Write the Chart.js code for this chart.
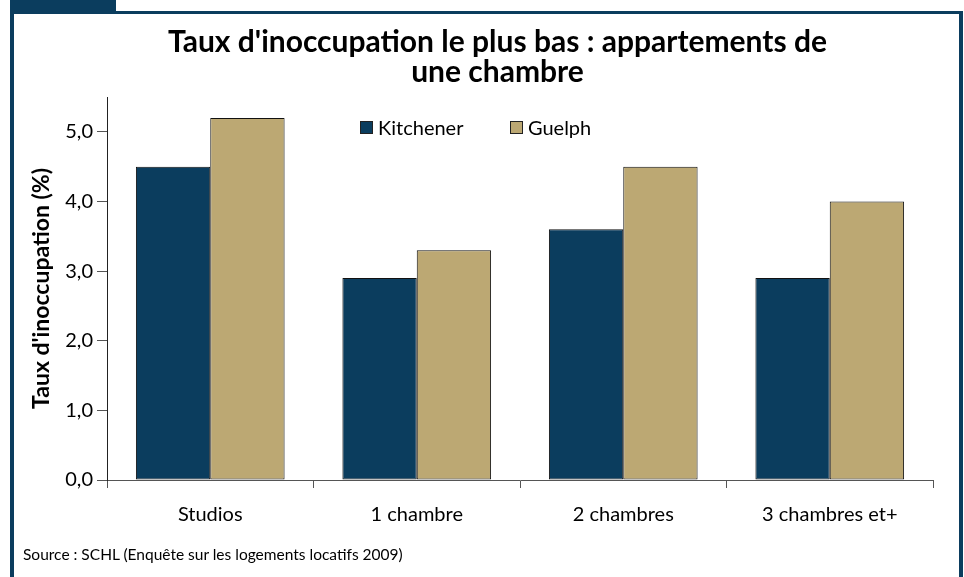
<!DOCTYPE html>
<html>
<head>
<meta charset="utf-8">
<script src="https://cdn.jsdelivr.net/npm/chart.js@4/dist/chart.umd.min.js"></script>
<style>
  html, body { margin: 0; padding: 0; background: #fff; }
  body { width: 964px; height: 577px; position: relative; overflow: hidden; font-family: Lato, sans-serif; }
  #tab { position: absolute; left: 10px; top: 0; width: 106px; height: 12px; background: #0b3d5e; }
  #frame { position: absolute; left: 10px; top: 11px; width: 945px; height: 580px;
           border-left: 4px solid #0b3d5e; border-top: 3px solid #0b3d5e; border-right: 4px solid #0b3d5e; }
  #source { position: absolute; left: 23px; top: 545px; font-size: 15.5px; color: #000; }
  canvas { position: absolute; left: 0; top: 0; }
</style>
</head>
<body>
<div id="tab"></div>
<div id="frame"></div>
<canvas id="c" width="964" height="577"></canvas>
<div id="source">Source : SCHL (Enquête sur les logements locatifs 2009)</div>
<script>
const categories = ["Studios", "1 chambre", "2 chambres", "3 chambres et+"];
const kitchener = [4.5, 2.9, 3.6, 2.9];
const guelph = [5.2, 3.3, 4.5, 4.0];
const titleLines = ["Taux d'inoccupation le plus bas : appartements de", "une chambre"];
const yTitle = "Taux d'inoccupation (%)";

const FONT = "Lato, 'Open Sans', sans-serif";

// legend drawn inside the plot, left of centre like the original
const innerLegend = {
  id: "innerLegend",
  afterLayout(chart) {
    // title sits a bit right of the layout centre
    chart.titleBlock.left += 17;
    chart.titleBlock.right += 17;
  },
  afterDraw(chart) {
    const ctx = chart.ctx;
    const a = chart.chartArea;
    let x = a.left + 253;
    const y = a.top + 31;
    ctx.save();
    ctx.font = "20px " + FONT;
    ctx.textBaseline = "middle";
    chart.data.datasets.forEach(ds => {
      ctx.fillStyle = ds.backgroundColor;
      ctx.fillRect(x, y - 7, 13, 13);
      ctx.strokeStyle = "#222";
      ctx.lineWidth = 1;
      ctx.strokeRect(x + 0.5, y - 6.5, 12, 12);
      ctx.fillStyle = "#000";
      ctx.fillText(ds.label, x + 18, y + 1);
      x += 150;
    });
    ctx.restore();
  }
};

new Chart(document.getElementById("c"), {
  type: "bar",
  data: {
    labels: categories,
    datasets: [
      { label: "Kitchener", data: kitchener, backgroundColor: "#0b3d5e", borderColor: "#111", borderWidth: 1, borderSkipped: false },
      { label: "Guelph", data: guelph, backgroundColor: "#bca873", borderColor: "#111", borderWidth: 1, borderSkipped: false }
    ]
  },
  options: {
    responsive: false,
    animation: false,
    layout: { padding: { left: 28, right: 31, top: 10, bottom: 47 } },
    datasets: { bar: { categoryPercentage: 0.72, barPercentage: 1.0 } },
    scales: {
      x: {
        grid: { drawOnChartArea: false, tickLength: 8, color: "#555" },
        border: { color: "#555" },
        ticks: { color: "#000", font: { size: 20, family: FONT }, padding: 15 },
        afterFit(s) { s.height = 50; }
      },
      y: {
        min: 0,
        max: 5.5,
        grid: { drawOnChartArea: false, tickLength: 10, color: "#555" },
        border: { color: "#222" },
        ticks: {
          stepSize: 1,
          includeBounds: false,
          color: "#000",
          font: { size: 20, family: FONT },
          padding: 4,
          callback: v => v.toFixed(1).replace(".", ",")
        },
        title: { display: true, text: yTitle, color: "#000", font: { size: 23, weight: "bold", family: FONT }, padding: { top: 0 } },
        afterFit(s) { s.width = 79; }
      }
    },
    plugins: {
      legend: { display: false },
      tooltip: { enabled: false },
      title: {
        display: true,
        text: titleLines,
        color: "#000",
        font: { size: 30, weight: "bold", family: FONT, lineHeight: 1.0 },
        padding: { top: 17, bottom: 10 }
      }
    }
  },
  plugins: [innerLegend]
});
</script>
</body>
</html>
